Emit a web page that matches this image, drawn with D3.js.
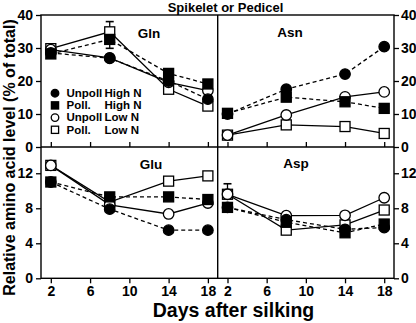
<!DOCTYPE html>
<html>
<head>
<meta charset="utf-8">
<script src="https://cdn.jsdelivr.net/npm/d3@7"></script>
<style>
  body { margin: 0; background: #fff; }
  svg { display: block; font-family: "Liberation Sans", Arial, sans-serif; font-weight: bold; }
</style>
</head>
<body>
<svg id="chart" width="416" height="323"></svg>
<script>
// sampling days
const days = [2, 8, 14, 18];
const seriesNames = ["Unpoll High N", "Poll. High N", "Unpoll Low N", "Poll. Low N"];
const legendFirst = ["Unpoll", "Poll.", "Unpoll", "Poll."];
const legendSecond = ["High N", "High N", "Low N", "Low N"];

// one row per series, in the order of seriesNames
const gln = [
  [28.5, 26.9, 20.0, 14.5],
  [28.2, 32.6, 22.3, 19.1],
  [29.5, 27.0, 19.6, 17.1],
  [29.8, 34.9, 17.5, 12.4]
];
const asn = [
  [10.0, 17.5, 22.1, 30.4],
  [10.2, 15.1, 13.7, 11.7],
  [3.6, 9.7, 15.2, 16.7],
  [3.6, 6.7, 6.2, 4.1]
];
const glu = [
  [11.0, 7.9, 5.5, 5.5],
  [11.0, 9.3, 9.3, 9.0],
  [12.9, 8.4, 7.35, 8.6],
  [12.9, 8.7, 11.1, 11.7]
];
const asp = [
  [8.1, 6.7, 5.6, 5.8],
  [8.1, 6.4, 5.2, 6.2],
  [9.6, 7.15, 7.2, 9.2],
  [9.6, 5.5, 6.1, 7.8]
];

// error bars: [day, low, high]
const glnErr = [[8, 29.9, 38.0]];
const aspErr = [[2, 9.6, 10.8]];

const topTicks = [0, 10, 20, 30, 40];
const botTicks = [0, 4, 8, 12];
const dayTicks = [2, 6, 10, 14, 18];

const svg = d3.select("#chart");

const xLeft = d3.scaleLinear().domain([1, 19]).range([41, 217.7]);
const xRight = d3.scaleLinear().domain([1, 19]).range([217.7, 394]);
const yTop = d3.scaleLinear().domain([0, 40]).range([147, 15]);
const yBot = d3.scaleLinear().domain([0, 15]).range([278.3, 147]);

const dashed = [true, true, false, false];
const filled = [true, true, false, false];
const isSquare = [false, true, false, true];
// draw order: open square, open circle, filled circle, filled square
const drawOrder = [3, 2, 0, 1];

function styleAxis(g, size) {
  g.select(".domain").remove();
  g.selectAll("line").attr("stroke", "#000").attr("stroke-width", 1.3);
  g.selectAll("text").attr("font-size", size).attr("font-weight", "bold").attr("fill", "#000")
    .attr("font-family", "'Liberation Sans', Arial, sans-serif");
}

// y axes
svg.append("g").attr("transform", "translate(41,0)")
  .call(d3.axisLeft(yTop).tickValues(topTicks).tickSize(5).tickPadding(3))
  .call(g => styleAxis(g, 14));
svg.append("g").attr("transform", "translate(41,0)")
  .call(d3.axisLeft(yBot).tickValues(botTicks).tickSize(5).tickPadding(3))
  .call(g => styleAxis(g, 14));
svg.append("g").attr("transform", "translate(394,0)")
  .call(d3.axisRight(yTop).tickValues(topTicks).tickSize(5).tickPadding(2))
  .call(g => styleAxis(g, 14));
svg.append("g").attr("transform", "translate(394,0)")
  .call(d3.axisRight(yBot).tickValues(botTicks).tickSize(5).tickPadding(2))
  .call(g => styleAxis(g, 14));

// x axes
[xLeft, xRight].forEach(x => {
  svg.append("g").attr("transform", "translate(0,278.3)")
    .call(d3.axisBottom(x).tickValues(dayTicks).tickSize(5).tickPadding(3))
    .call(g => styleAxis(g, 14));
  svg.append("g").attr("transform", "translate(0,147)")
    .call(d3.axisBottom(x).tickValues(dayTicks).tickSize(-5).tickFormat(""))
    .call(g => styleAxis(g, 14));
});

// frame and dividers
svg.append("rect").attr("x", 41).attr("y", 15).attr("width", 353).attr("height", 263.3)
  .attr("fill", "none").attr("stroke", "#000").attr("stroke-width", 1.4);
svg.append("line").attr("x1", 217.7).attr("x2", 217.7).attr("y1", 15).attr("y2", 278.3)
  .attr("stroke", "#000").attr("stroke-width", 1.4);
svg.append("line").attr("x1", 41).attr("x2", 394).attr("y1", 147).attr("y2", 147)
  .attr("stroke", "#000").attr("stroke-width", 1.4);

function drawMarker(g, cx, cy, s, size) {
  if (isSquare[s]) {
    g.append("rect").attr("x", cx - size).attr("y", cy - size)
      .attr("width", size * 2).attr("height", size * 2)
      .attr("fill", filled[s] ? "#000" : "#fff").attr("stroke", "#000").attr("stroke-width", 1.3);
  } else {
    g.append("circle").attr("cx", cx).attr("cy", cy).attr("r", size * 1.05)
      .attr("fill", filled[s] ? "#000" : "#fff").attr("stroke", "#000").attr("stroke-width", 1.3);
  }
}

function drawPanel(data, x, y, errs) {
  const g = svg.append("g");
  errs.forEach(([d, lo, hi]) => {
    g.append("line").attr("x1", x(d)).attr("x2", x(d)).attr("y1", y(lo)).attr("y2", y(hi))
      .attr("stroke", "#000").attr("stroke-width", 1.3);
    [lo, hi].forEach(v => g.append("line").attr("x1", x(d) - 4).attr("x2", x(d) + 4)
      .attr("y1", y(v)).attr("y2", y(v)).attr("stroke", "#000").attr("stroke-width", 1.6));
  });
  const line = d3.line().x((v, i) => x(days[i])).y(v => y(v));
  drawOrder.forEach(s => {
    g.append("path").attr("d", line(data[s])).attr("fill", "none")
      .attr("stroke", "#000").attr("stroke-width", 1.3)
      .attr("stroke-dasharray", dashed[s] ? "4,3" : null);
  });
  drawOrder.forEach(s => {
    data[s].forEach((v, i) => drawMarker(g, x(days[i]), y(v), s, 5));
  });
}

drawPanel(gln, xLeft, yTop, glnErr);
drawPanel(asn, xRight, yTop, []);
drawPanel(glu, xLeft, yBot, []);
drawPanel(asp, xRight, yBot, aspErr);

// panel labels
const labels = [["Gln", 149, 37.5], ["Asn", 290, 37], ["Glu", 151, 169], ["Asp", 296, 168]];
labels.forEach(([t, lx, ly]) => svg.append("text").attr("x", lx).attr("y", ly)
  .attr("text-anchor", "middle").attr("font-size", 13.5).text(t));

// title
svg.append("text").attr("x", 225.5).attr("y", 11.5).attr("text-anchor", "middle")
  .attr("font-size", 13).text("Spikelet or Pedicel");

// axis titles
svg.append("text").attr("transform", "translate(15,157.5) rotate(-90)")
  .attr("text-anchor", "middle").attr("font-size", 16).text("Relative amino acid level (% of total)");
svg.append("text").attr("x", 233.5).attr("y", 317).attr("text-anchor", "middle")
  .attr("font-size", 19.5).text("Days after silking");

// legend
const legend = svg.append("g");
seriesNames.forEach((name, i) => {
  const ly = 97 + i * 12.2;
  drawMarker(legend, 55, ly - 3.8, i, 3.6);
  legend.append("text").attr("x", 66.5).attr("y", ly).attr("font-size", 11.5).text(legendFirst[i]);
  legend.append("text").attr("x", 104.5).attr("y", ly).attr("font-size", 11.5).text(legendSecond[i]);
});
</script>
</body>
</html>
